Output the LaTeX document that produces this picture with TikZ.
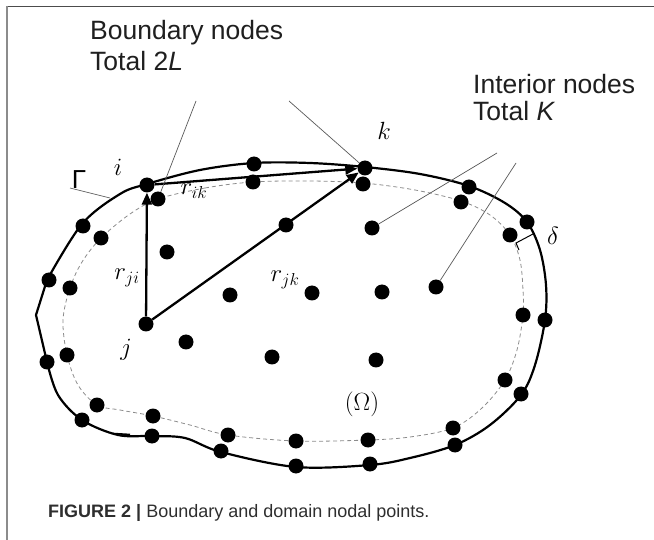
\documentclass[tikz,border=0pt]{standalone}
\usepackage[no-math]{fontspec}
\setmainfont{Liberation Sans}
\usetikzlibrary{arrows.meta}
\begin{document}
\begin{tikzpicture}[x=1pt,y=-1pt,
  dot/.style={circle,fill=black,inner sep=0pt,minimum size=15pt},
  bnd/.style={line width=2.2pt,black,line join=round},
  inbnd/.style={line width=0.8pt,black!45,dash pattern=on 4pt off 3pt},
  arr/.style={line width=2.3pt,-{Triangle[length=12pt,width=10pt]}},
  lead/.style={line width=0.7pt,black!65},
  lbl/.style={font=\fontsize{26.5}{31}\selectfont,text=black!88,anchor=west,inner sep=0pt},
  mlbl/.style={font=\fontsize{24}{28}\selectfont,inner sep=0pt}]
\useasboundingbox (0,0) rectangle (654,540);
% frame
\draw[line width=1.6pt,black!70] (6,6.5) -- (654,6.5);
\draw[line width=1.6pt,black!45] (7,6) -- (7,540);
% outer boundary
\draw[bnd] plot[smooth,tension=0.55] coordinates {(47,280) (82,224) (120,194) (147,184) (200,170) (254,163) (310,163) (365,167) (420,174) (469,186) (505,203) (527,222) (540,250) (546,285) (545,320) (535,365) (521,395) (490,425) (455,445) (410,458) (370,465) (296,467) (221,452) (185,438) (152,436) (118,435) (82,420) (58,395) (47,362)} -- (36,315) -- cycle;
\draw[line width=1.6pt] (113,433.5) -- (130,434.5);
% inner boundary
\draw[inbnd] plot[smooth cycle,tension=0.55] coordinates {(158,199) (205,188) (253,182) (310,181) (363,183) (415,190) (461,201) (490,215) (510,235) (520,260) (523,290) (523,315) (517,350) (505,380) (482,408) (453,428) (410,437) (368,440) (296,441) (228,435) (190,425) (153,416) (120,410) (97,405) (78,385) (67,355) (63,320) (70,288) (82,262) (101,238) (130,214)};
% outer nodes
\node[dot] (i) at (147,185) {};
\node[dot] (o2) at (254,164) {};
\node[dot] (k) at (365,168) {};
\node[dot] (o4) at (469,187) {};
\node[dot] (o5) at (527,222) {};
\node[dot] (o6) at (545,320) {};
\node[dot] (o7) at (521,394) {};
\node[dot] (o8) at (455,445) {};
\node[dot] (o9) at (370,464) {};
\node[dot] (o10) at (296,466) {};
\node[dot] (o11) at (221,451) {};
\node[dot] (o12) at (152,436) {};
\node[dot] (o13) at (82,420) {};
\node[dot] (o14) at (47,362) {};
\node[dot] (o15) at (49,280) {};
\node[dot] (o16) at (83,226) {};
% inner nodes
\node[dot] (n1) at (158,199) {};
\node[dot] (n2) at (253,182) {};
\node[dot] (n3) at (363,184) {};
\node[dot] (n4) at (461,202) {};
\node[dot] (n5) at (510,235) {};
\node[dot] (n6) at (523,315) {};
\node[dot] (n7) at (505,380) {};
\node[dot] (n8) at (453,428) {};
\node[dot] (n9) at (368,440) {};
\node[dot] (n10) at (296,441) {};
\node[dot] (n11) at (228,435) {};
\node[dot] (n12) at (153,416) {};
\node[dot] (n13) at (97,405) {};
\node[dot] (n14) at (67,355) {};
\node[dot] (n15) at (70,288) {};
\node[dot] (n16) at (101,238) {};
% interior nodes
\node[dot] (j) at (146,324) {};
\node[dot] (m1) at (167,252) {};
\node[dot] (m2) at (286,225) {};
\node[dot] (m3) at (372,228) {};
\node[dot] (m4) at (230,295) {};
\node[dot] (m5) at (312,293) {};
\node[dot] (m6) at (382,292) {};
\node[dot] (m7) at (436,287) {};
\node[dot] (m8) at (186,342) {};
\node[dot] (m9) at (272,357) {};
\node[dot] (m10) at (376,360) {};
% arrows
\draw[arr] (j) -- (i);
\draw[arr] (j) -- (k);
\draw[arr] (i) -- (k);
% leader lines
\coordinate (lb1) at (196,101);
\coordinate (lb2) at (289,101);
\coordinate (li1) at (497,153);
\coordinate (li2) at (516,163);
\coordinate (lg) at (70,188);
\coordinate (lge) at (110,198);
\draw[lead] (lb1) -- (n1);
\draw[lead] (lb2) -- (k);
\draw[lead] (li1) -- (m3);
\draw[lead] (li2) -- (m7);
\draw[lead] (lg) -- (lge);
% delta marker
\coordinate (d1) at (516,243);
\coordinate (d2) at (533,234);
\coordinate (d3) at (519,250);
\draw[line width=1pt] (d3) -- (d1) -- (d2);
% texts
\node[lbl] (tb1) at (90,33) {Boundary nodes};
\node[lbl] (tb2) at (90,61) {Total 2\textit{L}};
\node[lbl] (ti1) at (473,84) {Interior nodes};
\node[lbl] (ti2) at (473,111) {Total \textit{K}};
\node[font=\fontsize{26}{30}\selectfont,inner sep=0pt] (gam) at (79,180) {Γ};
\node[mlbl] (li) at (118,167) {$i$};
\node[mlbl] (lk) at (384,131) {$k$};
\node[mlbl] (lj) at (126,350) {$j$};
\node[mlbl] (lrik) at (194,191) {$r_{ik}$};
\node[mlbl] (lrji) at (127,278) {$r_{ji}$};
\node[mlbl] (lrjk) at (285,280) {$r_{jk}$};
\node[mlbl] (ld) at (553,236) {$\delta$};
\node[mlbl] (lo) at (362,404) {$(\Omega)$};
\node[anchor=base west,inner sep=0pt,font=\fontsize{18}{21}\selectfont,text=black!82] (cap) at (48,517) {\textbf{FIGURE 2 |} Boundary and domain nodal points.};
\end{tikzpicture}
\end{document}
